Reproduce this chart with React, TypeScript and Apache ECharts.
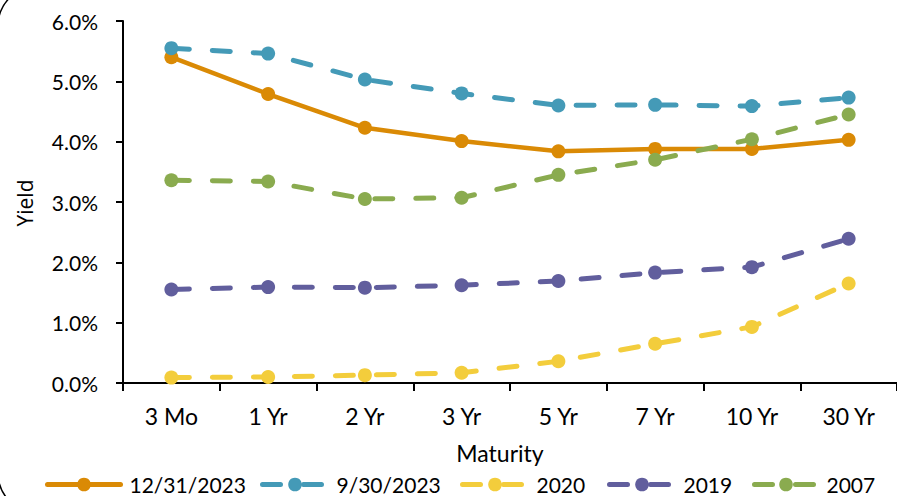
import React, { useEffect, useRef } from "react";
import * as echarts from "echarts";

const categories = ["3 Mo", "1 Yr", "2 Yr", "3 Yr", "5 Yr", "7 Yr", "10 Yr", "30 Yr"];
const seriesNames = ["12/31/2023", "9/30/2023", "2020", "2019", "2007"];
const yield20231231 = [5.40, 4.79, 4.23, 4.01, 3.84, 3.88, 3.88, 4.03];
const yield20230930 = [5.55, 5.46, 5.03, 4.80, 4.60, 4.61, 4.59, 4.73];
const yield2020 = [0.09, 0.10, 0.13, 0.17, 0.36, 0.65, 0.93, 1.65];
const yield2019 = [1.55, 1.59, 1.58, 1.62, 1.69, 1.83, 1.92, 2.39];
const yield2007 = [3.36, 3.34, 3.05, 3.07, 3.45, 3.70, 4.04, 4.45];
const colors = ["#DA8A05", "#449AB7", "#F3CD3C", "#615E9D", "#8AAB4F"];
const legendLefts = [45, 260, 460, 607, 752];
const legendWidths = [73, 65, 65, 65, 63];

const FONT = "Lato, 'Open Sans', sans-serif";

export default function App() {
  const ref = useRef<HTMLDivElement>(null);
  useEffect(() => {
    if (!ref.current) return;
    const chart = echarts.init(ref.current, undefined, { renderer: "svg" });
    const allData = [yield20231231, yield20230930, yield2020, yield2019, yield2007];
    const series = allData.map((d, i) => ({
      name: seriesNames[i],
      type: "line",
      data: d,
      symbol: "circle",
      symbolSize: 14,
      showAllSymbol: true,
      color: colors[i],
      itemStyle: { color: colors[i] },
      lineStyle: i === 0
        ? { width: 4.5, color: colors[i], cap: "round" }
        : { width: 5, color: colors[i], type: [18, 23], cap: "round" },
    }));
    chart.setOption({
      animation: false,
      textStyle: { fontFamily: FONT },
      grid: { left: 123, right: -12, top: 21, bottom: 113, containLabel: false },
      legend: seriesNames.map((n, i) => ({
        data: [n],
        left: legendLefts[i],
        top: 474,
        itemWidth: legendWidths[i],
        itemHeight: 17,
        itemGap: 8,
        padding: 0,
        lineStyle: { width: 5, cap: "round" },
        textStyle: { fontSize: 21, color: "#000", fontFamily: FONT, padding: [0, 0, 0, 4] },
        selectedMode: false,
      })),
      xAxis: {
        type: "category",
        data: categories,
        boundaryGap: true,
        axisLine: { lineStyle: { color: "#000", width: 2 } },
        axisTick: { show: true, length: 8, lineStyle: { color: "#000", width: 2 } },
        axisLabel: { color: "#000", fontSize: 23, margin: 21, fontFamily: FONT },
        splitLine: { show: false },
      },
      yAxis: {
        type: "value",
        min: 0,
        max: 6,
        interval: 1,
        axisLine: { show: true, lineStyle: { color: "#000", width: 2 } },
        axisTick: { show: true, length: 7, lineStyle: { color: "#000", width: 2 } },
        axisLabel: {
          color: "#000",
          fontSize: 21,
          margin: 25,
          fontFamily: FONT,
          formatter: (v: number) => v.toFixed(1) + "%",
        },
        splitLine: { show: false },
      },
      graphic: [
        {
          type: "text",
          x: 500,
          y: 453,
          style: {
            text: "Maturity",
            fontSize: 23,
            fill: "#000",
            fontFamily: FONT,
            align: "center",
            verticalAlign: "middle",
          },
        },
        {
          type: "text",
          x: 25,
          y: 203,
          rotation: Math.PI / 2,
          style: {
            text: "Yield",
            fontSize: 21,
            fill: "#000",
            fontFamily: "'Open Sans', sans-serif",
            align: "center",
            verticalAlign: "middle",
          },
        },
        {
          type: "rect",
          shape: { x: -2, y: -14, width: 1000, height: 527, r: 40 },
          style: { fill: "none", stroke: "#000", lineWidth: 1.5 },
          silent: true,
        },
      ],
      series,
    });
    return () => chart.dispose();
  }, []);
  return <div ref={ref} style={{ width: 897, height: 496, position: "absolute", left: 0, top: 0 }} />;
}
